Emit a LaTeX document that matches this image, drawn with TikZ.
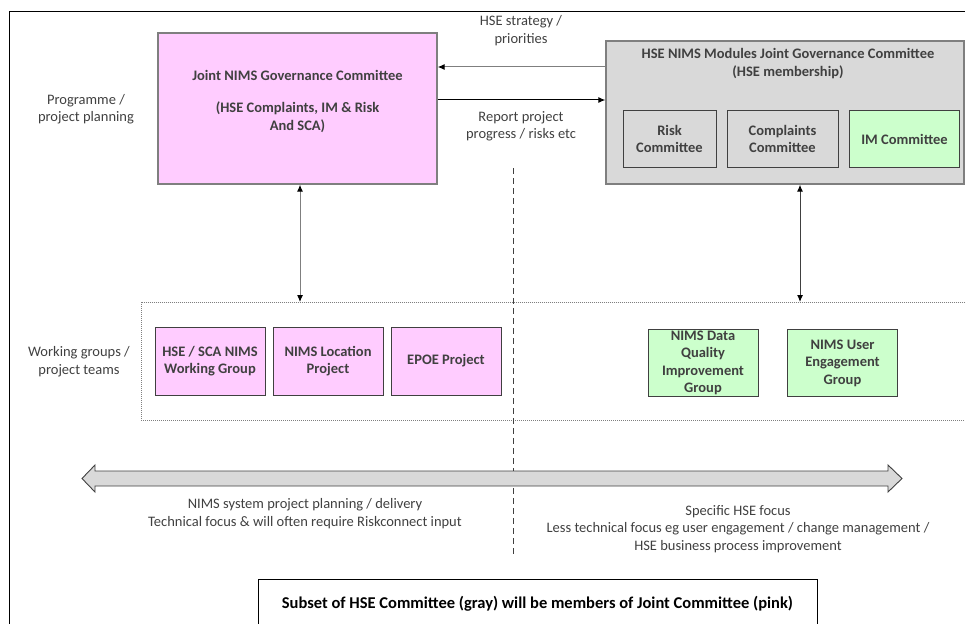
\documentclass[tikz,border=0pt]{standalone}
\usepackage{fontspec}
\setmainfont{Carlito}
\usetikzlibrary{calc,arrows.meta}
\definecolor{pinkf}{HTML}{FFCCFF}
\definecolor{grayf}{HTML}{D9D9D9}
\definecolor{greenf}{HTML}{CCFFCC}
\definecolor{txt}{HTML}{404040}
\definecolor{bord}{HTML}{7F7F7F}
\tikzset{
  every node/.style={font=\fontsize{14.5}{17.5}\selectfont, text=txt, align=center, inner sep=0pt},
  bigbox/.style={draw=bord, line width=1.4pt},
  smallbox/.style={draw=txt, line width=0.9pt, minimum height=57, font=\fontsize{14.5}{17.5}\selectfont\bfseries},
  pinkbox/.style={smallbox, fill=pinkf, minimum width=110, minimum height=68},
  greenbox/.style={smallbox, fill=greenf, minimum width=110, minimum height=67},
  oneway/.style={line width=1pt, -{Latex[length=7pt,width=6pt,color=black]}},
  conn/.style={draw=#1, line width=1pt, {Latex[length=7pt,width=6pt,color=black]}-{Latex[length=7pt,width=6pt,color=black]}},
}
\begin{document}
\begin{tikzpicture}[x=1pt,y=-1pt]
\useasboundingbox (0,0) rectangle (965,623);
\clip (0,0) rectangle (965,623);
% outer frame
\draw[line width=0.9pt, black] (9,640) -- (9,11) -- (980,11);
% pink committee
\node[bigbox, fill=pinkf, minimum width=279, minimum height=151] (pink) at (297.5,108.5) {};
\node (pinkt) at (297.5,75) {\bfseries Joint NIMS Governance Committee};
\node (pinks) at (297.5,117) {\bfseries (HSE Complaints, IM \& Risk\\\bfseries And SCA)};
% gray committee
\node[bigbox, fill=grayf, minimum width=358, minimum height=143] (gray) at (785,112.5) {};
\node (grayt) at (788,63.5) {\bfseries HSE NIMS Modules Joint Governance Committee\\\bfseries (HSE membership)};
\node[smallbox, fill=grayf, minimum width=93] (risk) at (669.5,139) {Risk\\Committee};
\node[smallbox, fill=grayf, minimum width=111] (compl) at (782.5,139) {Complaints\\Committee};
\node[smallbox, fill=greenf, minimum width=110] (im) at (904.5,139) {IM Committee};
% labels
\node (prog) at (86,109) {Programme /\\project planning};
\node (strat) at (521,30.5) {HSE strategy /\\priorities};
\node (rep) at (521,126.5) {Report project\\progress / risks etc};
\node (wgl) at (79,361.5) {Working groups /\\project teams};
% horizontal arrows
\coordinate (t1) at (0,67);
\coordinate (t2) at (0,100);
\draw[oneway, draw=bord] (gray.west |- t1) -- (pink.east |- t1);
\draw[oneway, draw=black] (pink.east |- t2) -- (gray.west |- t2);
% working group frame
\node[draw=bord, dash pattern=on 1pt off 1pt, line width=0.8pt, minimum width=840, minimum height=118, anchor=north west] (wgframe) at (141,302) {};
% dashed divider
\coordinate (dtop) at (513,168);
\coordinate (dbot) at (513,556);
\draw[draw=txt, line width=0.8pt, dash pattern=on 6pt off 4pt] (dtop) -- (dbot);
% working groups
\node[pinkbox] (wg1) at (210,361) {HSE / SCA NIMS\\Working Group};
\node[pinkbox] (wg2) at (328,361) {NIMS Location\\Project};
\node[pinkbox] (wg3) at (446,361) {EPOE Project};
\node[greenbox] (dq) at (703,363) {NIMS Data\\Quality\\Improvement\\Group};
\node[greenbox] (ue) at (842.5,363) {NIMS User\\Engagement\\Group};
% vertical arrows
\coordinate (va) at (300,0);
\coordinate (vb) at (800,0);
\draw[conn=bord] (pink.south -| va) -- (wgframe.north -| va);
\draw[conn=txt] (gray.south -| vb) -- (wgframe.north -| vb);
% big double arrow
\draw[draw=txt, fill=grayf, line width=0.9pt, line join=miter]
  (82,478.5) -- (95,465) -- (95,471) -- (888,471) -- (888,465) -- (902,478.5)
  -- (888,492) -- (888,486) -- (95,486) -- (95,492) -- cycle;
% bottom texts
\node (lt) at (305,513.5) {NIMS system project planning / delivery\\Technical focus \& will often require Riskconnect input};
\node (rt) at (738,529) {Specific HSE focus\\Less technical focus eg user engagement / change management /\\HSE business process improvement};
% bottom note
\draw[draw=black, line width=0.9pt] (258,640) -- (258,579) -- (817,579) -- (817,640);
\node[text=black, font=\fontsize{16.5}{19}\selectfont\bfseries] (note) at (537.5,604) {Subset of HSE Committee (gray) will be members of Joint Committee (pink)};
\end{tikzpicture}
\end{document}
